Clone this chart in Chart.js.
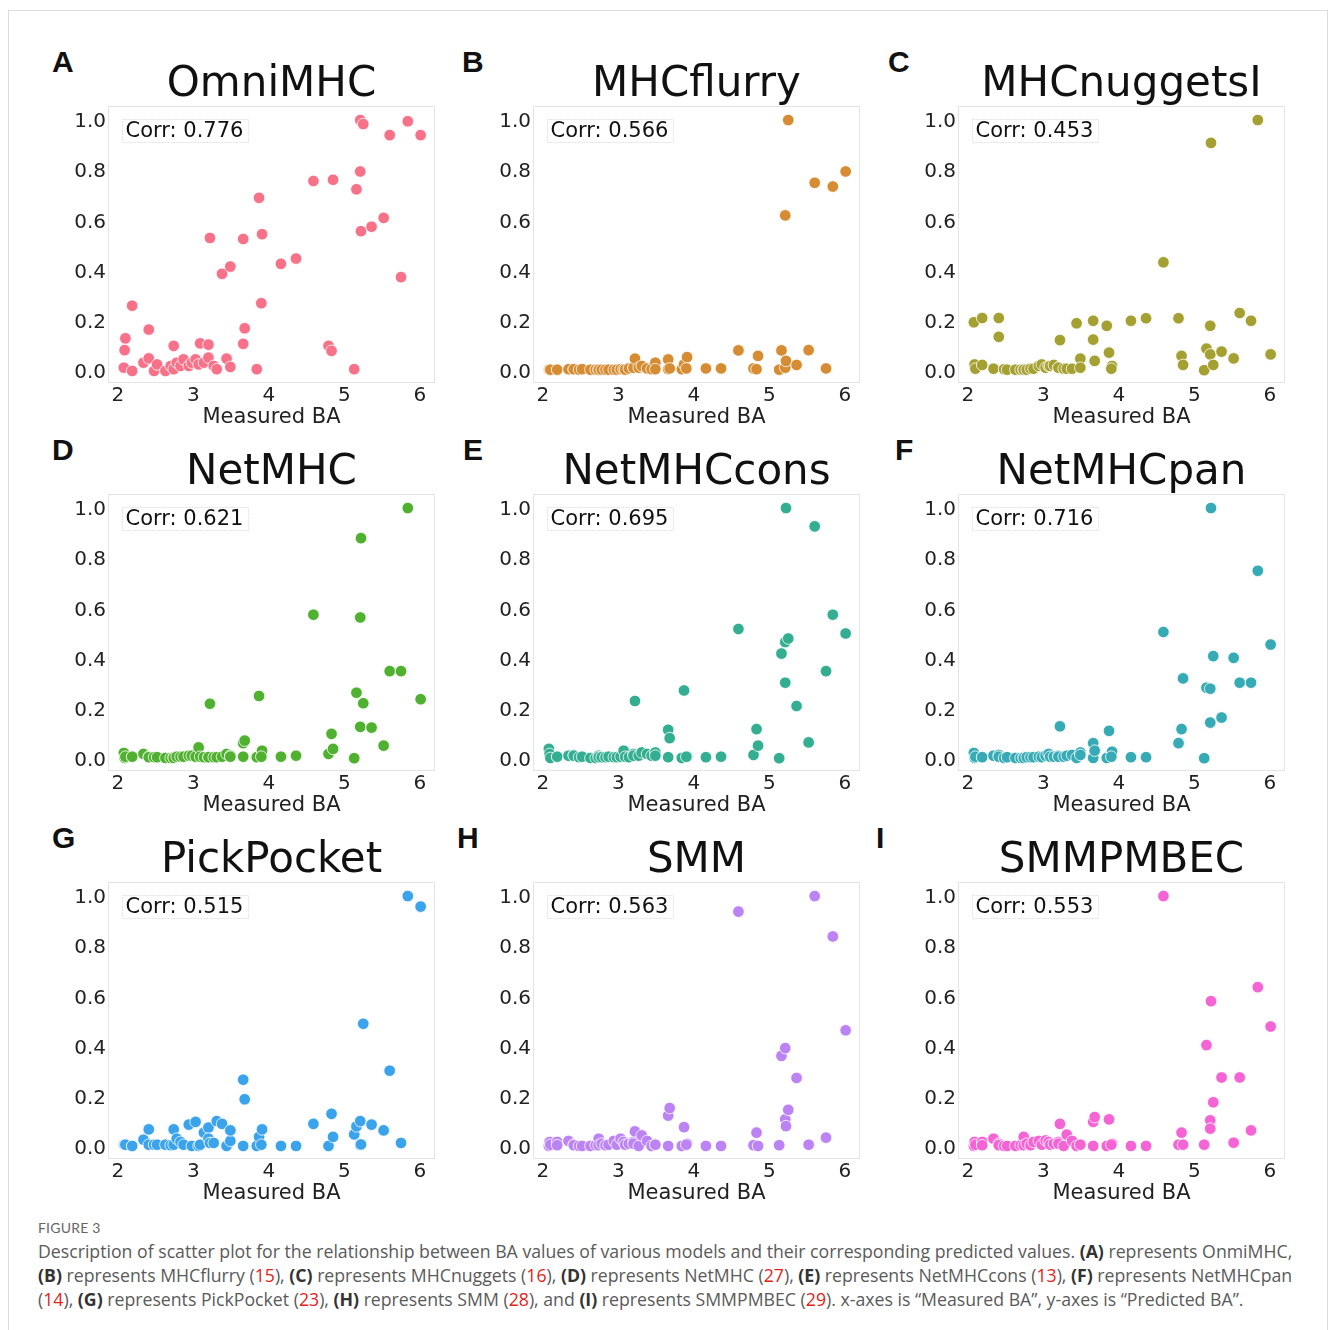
<!DOCTYPE html>
<html>
<head>
<meta charset="utf-8">
<script src="https://cdn.jsdelivr.net/npm/chart.js@4.4.0/dist/chart.umd.min.js"></script>
<style>
  body { margin: 0; background: #fff; width: 1331px; height: 1330px; position: relative; overflow: hidden; }
  #frame { position: absolute; left: 8px; top: 10px; width: 1320px; height: 1330px; border: 1px solid #dcdcdc; box-sizing: border-box; }
  .panel { position: absolute; }
  .letter { position: absolute; font-family: 'Liberation Sans', Arial, sans-serif; font-weight: bold; font-size: 30px; line-height: 30px; color: #111; }
  #caphead { position: absolute; left: 38px; top: 1219px; font-family: Lato, sans-serif; font-size: 14px; color: #666; letter-spacing: 0.2px; }
  #caption { position: absolute; left: 38px; top: 1239px; width: 1285px; font-family: 'Open Sans', sans-serif; font-size: 17.7px; line-height: 24px; color: #5a5a5a; white-space: nowrap; }
  #caption b { color: #333; }
  #caption .r { color: #e2231a; }
</style>
</head>
<body>
<div id="frame"></div>

<div class="letter" style="left:52px;top:47px">A</div>
<div class="letter" style="left:462px;top:47px">B</div>
<div class="letter" style="left:888px;top:47px">C</div>
<div class="letter" style="left:52px;top:435px">D</div>
<div class="letter" style="left:463px;top:435px">E</div>
<div class="letter" style="left:895px;top:435px">F</div>
<div class="letter" style="left:52px;top:823px">G</div>
<div class="letter" style="left:457px;top:823px">H</div>
<div class="letter" style="left:876px;top:823px">I</div>

<canvas class="panel" id="p0"></canvas>
<canvas class="panel" id="p1"></canvas>
<canvas class="panel" id="p2"></canvas>
<canvas class="panel" id="p3"></canvas>
<canvas class="panel" id="p4"></canvas>
<canvas class="panel" id="p5"></canvas>
<canvas class="panel" id="p6"></canvas>
<canvas class="panel" id="p7"></canvas>
<canvas class="panel" id="p8"></canvas>

<div id="caphead">FIGURE 3</div>
<div id="caption">
  <div>Description of scatter plot for the relationship between BA values of various models and their corresponding predicted values. <b>(A)</b> represents OnmiMHC,</div>
  <div><b>(B)</b> represents MHCflurry (<span class="r">15</span>), <b>(C)</b> represents MHCnuggets (<span class="r">16</span>), <b>(D)</b> represents NetMHC (<span class="r">27</span>), <b>(E)</b> represents NetMHCcons (<span class="r">13</span>), <b>(F)</b> represents NetMHCpan</div>
  <div>(<span class="r">14</span>), <b>(G)</b> represents PickPocket (<span class="r">23</span>), <b>(H)</b> represents SMM (<span class="r">28</span>), and <b>(I)</b> represents SMMPMBEC (<span class="r">29</span>). x-axes is “Measured BA”, y-axes is “Predicted BA”.</div>
</div>

<script>
// measured BA, shared by every model (x axis)
const measuredBA = [2.08, 2.09, 2.10, 2.19, 2.19, 2.34, 2.41, 2.41, 2.48, 2.52,
  2.63, 2.70, 2.74, 2.74, 2.78, 2.83, 2.87, 2.94, 2.98, 3.03,
  3.07, 3.09, 3.14, 3.20, 3.20, 3.22, 3.27, 3.31, 3.38, 3.44,
  3.49, 3.49, 3.66, 3.66, 3.68, 3.84, 3.87, 3.91, 3.90, 4.16,
  4.36, 4.59, 4.79, 4.83, 4.85, 5.13, 5.16, 5.21, 5.21, 5.25,
  5.22, 5.36, 5.52, 5.60, 5.75, 5.84, 6.01];

// predicted BA per model
const omniMHC = [0.013, 0.083, 0.13, 0.26, 0.0, 0.033, 0.05, 0.165, 0.0, 0.026,
  0.0, 0.02, 0.10, 0.007, 0.033, 0.02, 0.046, 0.02, 0.033, 0.046,
  0.026, 0.11, 0.033, 0.105, 0.053, 0.53, 0.02, 0.007, 0.387, 0.049,
  0.416, 0.016, 0.526, 0.108, 0.17, 0.007, 0.69, 0.545, 0.27, 0.427,
  0.448, 0.757, 0.10, 0.08, 0.762, 0.007, 0.724, 0.795, 1.0, 0.984,
  0.557, 0.575, 0.61, 0.94, 0.374, 0.995, 0.94];
const mhcFlurry = [0.005, 0.005, 0.005, 0.005, 0.005, 0.007, 0.007, 0.007, 0.005, 0.007,
  0.005, 0.005, 0.005, 0.005, 0.005, 0.005, 0.005, 0.005, 0.005, 0.007,
  0.007, 0.005, 0.01, 0.013, 0.013, 0.049, 0.013, 0.02, 0.01, 0.007,
  0.033, 0.007, 0.046, 0.007, 0.01, 0.007, 0.026, 0.055, 0.01, 0.01,
  0.01, 0.082, 0.01, 0.007, 0.06, 0.005, 0.082, 0.62, 0.013, 1.0,
  0.04, 0.024, 0.083, 0.75, 0.01, 0.735, 0.795];
const mhcNuggets = [0.194, 0.026, 0.009, 0.211, 0.024, 0.009, 0.211, 0.136, 0.007, 0.005,
  0.005, 0.005, 0.005, 0.005, 0.005, 0.009, 0.009, 0.02, 0.026, 0.013,
  0.02, 0.02, 0.024, 0.013, 0.013, 0.123, 0.009, 0.009, 0.009, 0.19,
  0.049, 0.013, 0.2, 0.125, 0.04, 0.18, 0.073, 0.02, 0.009, 0.2,
  0.21, 0.433, 0.21, 0.06, 0.024, 0.003, 0.089, 0.18, 0.066, 0.024,
  0.909, 0.077, 0.05, 0.231, 0.2, 1.0, 0.066];
const netMHC = [0.024, 0.004, 0.009, 0.009, 0.009, 0.02, 0.009, 0.007, 0.007, 0.007,
  0.004, 0.004, 0.007, 0.004, 0.009, 0.009, 0.009, 0.013, 0.013, 0.009,
  0.046, 0.009, 0.007, 0.007, 0.007, 0.22, 0.007, 0.007, 0.009, 0.02,
  0.013, 0.009, 0.063, 0.009, 0.073, 0.007, 0.251, 0.033, 0.009, 0.009,
  0.013, 0.575, 0.02, 0.1, 0.04, 0.003, 0.264, 0.564, 0.128, 0.222,
  0.88, 0.125, 0.053, 0.35, 0.35, 1.0, 0.238];
const netMHCcons = [0.04, 0.02, 0.004, 0.009, 0.009, 0.013, 0.016, 0.013, 0.007, 0.009,
  0.004, 0.004, 0.013, 0.007, 0.007, 0.007, 0.009, 0.007, 0.007, 0.009,
  0.033, 0.009, 0.007, 0.02, 0.013, 0.231, 0.013, 0.026, 0.02, 0.013,
  0.026, 0.013, 0.116, 0.007, 0.083, 0.004, 0.273, 0.009, 0.009, 0.007,
  0.009, 0.518, 0.016, 0.119, 0.053, 0.003, 0.42, 0.466, 0.304, 0.48,
  1.0, 0.211, 0.066, 0.927, 0.35, 0.575, 0.5];
const netMHCpan = [0.024, 0.004, 0.009, 0.007, 0.007, 0.013, 0.016, 0.009, 0.004, 0.007,
  0.004, 0.004, 0.007, 0.004, 0.007, 0.007, 0.007, 0.009, 0.007, 0.013,
  0.02, 0.009, 0.009, 0.013, 0.009, 0.13, 0.009, 0.013, 0.016, 0.004,
  0.026, 0.016, 0.063, 0.004, 0.033, 0.004, 0.112, 0.029, 0.009, 0.007,
  0.007, 0.506, 0.063, 0.119, 0.321, 0.003, 0.284, 0.28, 0.145, 0.41,
  1.0, 0.165, 0.403, 0.304, 0.304, 0.75, 0.456];
const pickPocket = [0.009, 0.009, 0.009, 0.004, 0.004, 0.029, 0.07, 0.009, 0.009, 0.009,
  0.009, 0.007, 0.07, 0.009, 0.033, 0.02, 0.009, 0.089, 0.004, 0.1,
  0.004, 0.009, 0.057, 0.077, 0.033, 0.016, 0.016, 0.103, 0.092, 0.004,
  0.024, 0.066, 0.268, 0.004, 0.19, 0.004, 0.04, 0.07, 0.009, 0.004,
  0.004, 0.092, 0.004, 0.132, 0.04, 0.05, 0.082, 0.008, 0.103, 0.491,
  0.01, 0.089, 0.066, 0.304, 0.016, 1.0, 0.958];
const smm = [0.004, 0.02, 0.009, 0.02, 0.007, 0.024, 0.009, 0.007, 0.004, 0.004,
  0.004, 0.007, 0.033, 0.007, 0.013, 0.007, 0.009, 0.024, 0.009, 0.033,
  0.02, 0.009, 0.013, 0.02, 0.013, 0.062, 0.004, 0.046, 0.024, 0.004,
  0.009, 0.009, 0.125, 0.004, 0.155, 0.004, 0.079, 0.013, 0.009, 0.004,
  0.004, 0.938, 0.007, 0.057, 0.004, 0.007, 0.363, 0.394, 0.11, 0.148,
  0.083, 0.275, 0.009, 1.0, 0.037, 0.839, 0.465];
const smmPmbec = [0.004, 0.02, 0.009, 0.02, 0.007, 0.033, 0.013, 0.007, 0.004, 0.004,
  0.004, 0.007, 0.04, 0.007, 0.013, 0.007, 0.02, 0.024, 0.009, 0.026,
  0.02, 0.009, 0.013, 0.02, 0.013, 0.092, 0.004, 0.049, 0.024, 0.004,
  0.009, 0.009, 0.1, 0.004, 0.119, 0.004, 0.11, 0.013, 0.009, 0.004,
  0.004, 1.0, 0.009, 0.057, 0.009, 0.009, 0.406, 0.106, 0.073, 0.178,
  0.581, 0.277, 0.017, 0.277, 0.066, 0.637, 0.48];

const modelNames = ['OmniMHC', 'MHCflurry', 'MHCnuggetsI', 'NetMHC', 'NetMHCcons', 'NetMHCpan', 'PickPocket', 'SMM', 'SMMPMBEC'];
const corrValues = ['0.776', '0.566', '0.453', '0.621', '0.695', '0.716', '0.515', '0.563', '0.553'];
const predicted = [omniMHC, mhcFlurry, mhcNuggets, netMHC, netMHCcons, netMHCpan, pickPocket, smm, smmPmbec];

const xTicks = [2, 3, 4, 5, 6];
const yTicks = [0.0, 0.2, 0.4, 0.6, 0.8, 1.0];

// seaborn husl palette, 9 colours
const palette = ['#f77189', '#d58c32', '#a4a031', '#50b131', '#34ae91', '#37abb5', '#3ba3ec', '#bb83f4', '#f564d4'];

const FONT = 'DejaVu Sans';

// light frame round the plot area + the "Corr:" label box
const panelDecor = {
  id: 'panelDecor',
  beforeDatasetsDraw(chart) {
    const { ctx, chartArea: a } = chart;
    ctx.save();
    ctx.strokeStyle = '#e4e4e4';
    ctx.lineWidth = 1;
    ctx.strokeRect(a.left + 0.5, a.top + 0.5, a.width - 1, a.height - 1);
    ctx.restore();
  },
  afterDatasetsDraw(chart, args, opts) {
    const { ctx, chartArea: a } = chart;
    const text = 'Corr: ' + opts.corr;
    ctx.save();
    ctx.font = '21px "' + FONT + '"';
    const w = ctx.measureText(text).width;
    const bx = a.left + 14.5, by = a.top + 13.5;
    ctx.fillStyle = 'rgba(255,255,255,0.6)';
    ctx.fillRect(bx, by, w + 8, 23);
    ctx.strokeStyle = '#e2e2e2';
    ctx.setLineDash([2, 1]);
    ctx.strokeRect(bx, by, w + 8, 23);
    ctx.setLineDash([]);
    ctx.fillStyle = '#111';
    ctx.textBaseline = 'alphabetic';
    ctx.fillText(text, bx + 3, a.top + 31);
    ctx.restore();
  }
};

predicted.forEach((vals, i) => {
  const col = i % 3, row = Math.floor(i / 3);
  const cv = document.getElementById('p' + i);
  cv.width = 397;
  cv.height = 388;
  cv.style.left = (48 + col * 425) + 'px';
  cv.style.top = (50 + row * 388) + 'px';

  new Chart(cv.getContext('2d'), {
    type: 'scatter',
    data: {
      datasets: [{
        label: modelNames[i],
        data: measuredBA.map((x, k) => ({ x: x, y: vals[k] })),
        backgroundColor: palette[i],
        borderColor: '#ffffff',
        borderWidth: 0.8,
        pointRadius: 5.8,
        pointHoverRadius: 5.8
      }]
    },
    options: {
      responsive: false,
      animation: false,
      layout: { padding: { left: 0, right: 10, top: 0, bottom: 0 } },
      scales: {
        x: {
          type: 'linear',
          min: 1.87,
          max: 6.2,
          afterBuildTicks: s => { s.ticks = xTicks.map(v => ({ value: v })); },
          afterFit: s => { s.height = 55; },
          grid: { display: false, drawTicks: false },
          border: { display: false },
          ticks: { font: { family: FONT, size: 20 }, color: '#222', padding: 1, maxRotation: 0, callback: v => String(v) },
          title: { display: true, text: 'Measured BA', color: '#222', font: { family: FONT, size: 21, lineHeight: 1.2 }, padding: { top: 0, bottom: 8 } }
        },
        y: {
          min: -0.048,
          max: 1.056,
          afterBuildTicks: s => { s.ticks = yTicks.map(v => ({ value: v })); },
          afterFit: s => { s.width = 60; },
          grid: { display: false, drawTicks: false },
          border: { display: false },
          ticks: { font: { family: FONT, size: 20 }, color: '#222', padding: 2, labelOffset: 2, callback: v => v.toFixed(1) }
        }
      },
      plugins: {
        legend: { display: false },
        tooltip: { enabled: false },
        title: {
          display: true,
          fullSize: false,
          text: modelNames[i],
          color: '#111',
          font: { family: FONT, size: 42, weight: 'normal', lineHeight: 1 },
          padding: { top: 14, bottom: 0 }
        },
        panelDecor: { corr: corrValues[i] }
      }
    },
    plugins: [panelDecor]
  });
});
</script>
</body>
</html>
